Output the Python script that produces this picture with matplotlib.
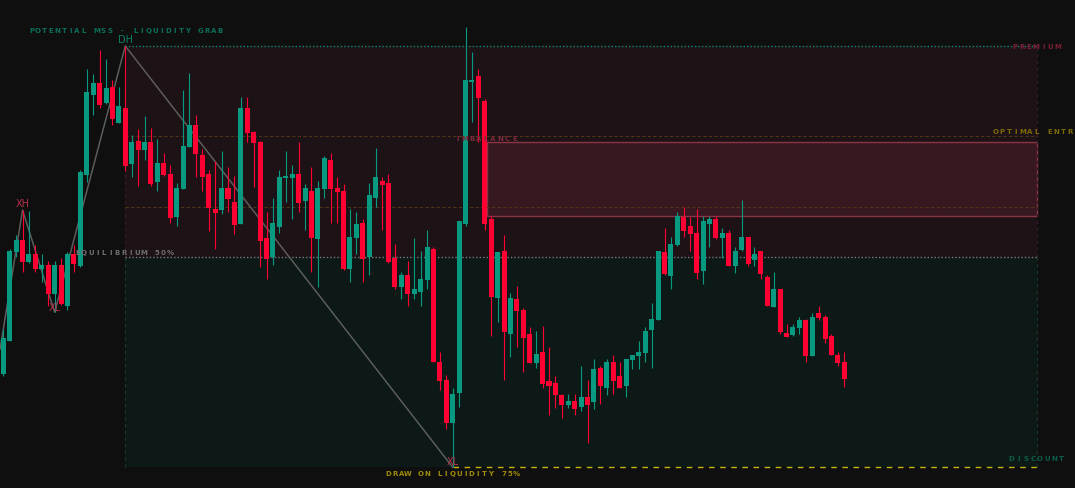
import numpy as np
import matplotlib.pyplot as plt
from matplotlib.patches import Rectangle

W, H = 1075, 489

# candles (price units, one unit ~ one pixel)
opens = [125, 158.3, 247.3, 259, 236.7, 245, 230, 234, 205, 234,
         193.3, 245, 233.3, 324.3, 404.3, 416, 396, 412.3, 376, 391,
         335, 358, 349.3, 356.7, 317.3, 336, 325, 282.3, 310, 352.3,
         374, 344, 325, 290, 289, 310.7, 296.7, 275, 391, 366.7,
         356.7, 260.7, 242.3, 272.3, 321, 321, 325, 298.3, 307.7, 260,
         310, 339, 311, 308, 230, 261, 276, 242.3, 301, 318,
         316, 241, 212, 224, 205, 207, 219, 250, 137.3, 119,
         76, 106, 275, 417.3, 423, 398, 280, 200.7, 248, 165.3,
         200, 189, 165, 136.3, 147, 118, 116, 104, 94.3, 98,
         92.3, 102, 97.3, 131, 111.3, 137, 123, 113.3, 139.3, 143.3,
         146.3, 169.3, 179.3, 247, 223, 254, 282, 273, 266, 228,
         275, 280, 261, 266, 233, 249, 262, 239, 248, 222,
         192, 210, 166, 164, 171, 179, 143, 186, 182, 163,
         144, 137]
closes = [160.7, 248.3, 259, 237.3, 245, 230, 234, 205, 234, 195,
          245, 235, 326.7, 407.3, 416, 394.3, 411, 380, 393, 333.3,
          356.7, 349, 356.7, 315, 336, 324.3, 281, 310.7, 353, 374,
          345, 322.3, 291, 286.3, 310.7, 300, 274.3, 391, 366, 356,
          258.3, 240, 276, 322, 323, 325, 296, 311, 261, 311,
          341, 310, 307, 230, 262, 275, 240, 304, 322, 314,
          236.7, 212, 224, 205, 210, 220, 252, 136.7, 118.3, 76,
          105, 278, 419, 419, 401, 275, 202.3, 247, 167.3, 201,
          188.3, 160.7, 136.3, 145, 115.3, 113.3, 104.3, 94.3, 98, 90.3,
          102, 94.3, 130, 113.3, 137, 118.3, 111.3, 140, 144, 147,
          168, 180, 248, 225.3, 255, 283, 268, 265, 226, 278,
          280, 261, 266, 233, 248, 262, 235, 245, 225, 193,
          210, 167, 162, 172, 179, 143, 182, 181, 160, 144,
          136, 120]
highs = [170, 250, 264, 289, 287.7, 254, 245, 238, 238, 240.7,
         247.3, 254, 329, 430, 425, 449, 440, 419, 412.3, 453,
         364, 370, 382.7, 370.7, 360, 346, 334, 316, 409.3, 426,
         384, 350, 329.3, 338.3, 347.7, 331.7, 322.7, 401.7, 401.7, 368.3,
         358.3, 286.7, 300.7, 329, 348, 334, 356.7, 314.7, 331.7, 318,
         343, 346, 322, 315, 290, 287, 280, 316, 351, 322,
         325, 255, 227, 238, 261, 248, 269, 251.7, 147.3, 124,
         111, 278, 471.7, 446.7, 430, 400, 282.7, 247, 264, 206,
         213.3, 191.3, 172, 168, 173.3, 152, 123, 105, 105, 105,
         133, 119, 140, 133, 140, 144, 137, 140, 144, 158,
         172, 196, 248, 271, 262, 287, 292, 282, 290, 283,
         283, 283, 271, 269, 252, 299, 262, 252, 248, 224,
         227, 210, 175, 175, 182, 180, 186, 193, 184, 165,
         147, 147]
lows = [123.3, 158.3, 242, 227.3, 236, 227.3, 217.3, 193.3, 186.7, 194,
        189.3, 227.3, 231.7, 316.7, 384.3, 391, 395, 374.3, 376, 328.3,
        322.3, 313.3, 339, 313.3, 308.3, 323.3, 276, 273.3, 310, 352.3,
        322.3, 308.3, 268.3, 250, 285, 286.7, 265, 275, 356.7, 311.7,
        231.7, 220, 234, 266, 296.7, 280, 287.3, 269, 227.3, 212.3,
        301, 276, 276, 229, 217.3, 245, 217.3, 224.3, 292, 269,
        235.7, 210, 200, 193, 200, 193, 210, 136.7, 109.3, 70,
        31.7, 91.7, 273.3, 377.3, 357.3, 269.3, 163.3, 177.3, 119.3, 142.3,
        151.7, 126.7, 136.3, 131.3, 111.3, 84.3, 91.3, 81.3, 91.3, 84.3,
        88.3, 56.3, 90.3, 95.3, 104.3, 105.3, 111.3, 102.3, 130.3, 130.3,
        137.3, 131.3, 179.3, 224.3, 210, 252.7, 262, 248, 220, 215,
        252, 260, 241, 233, 226, 248, 233, 233, 220, 193,
        192, 165, 162, 163, 165, 137, 143, 179, 156, 144,
        133, 112]

# swing points (candle index) and the off-screen start of the zigzag
xh_i, xl_i, dh_i, xl2_i = 3, 8, 19, 70
zig_start = 150
zone_end = 161

o = np.array(opens); c = np.array(closes)
hi = np.array(highs); lo = np.array(lows)
x = np.arange(len(o))

dh = hi[dh_i]
xl = lo[xl2_i]
eq = (dh + xl) / 2
fib618 = xl + 0.618 * (dh - xl)
fib786 = xl + 0.786 * (dh - xl)
imb_top = lo[74]
imb_bot = hi[76]

BG = '#0f0f0f'
UP = '#089981'
DOWN = '#ff0033'

fig = plt.figure(figsize=(W / 100, H / 100), dpi=100, facecolor=BG)
ax = fig.add_axes([0, 0, 1, 1], facecolor=BG)
dx = 6.42
ax.set_xlim(-3.3 / dx, (W - 3.3) / dx)
ax.set_ylim(500 - H, 500)
ax.axis('off')

# premium / discount zones
ax.add_patch(Rectangle((dh_i, eq), zone_end - dh_i, dh - eq, fc='#1d1216', ec='none', zorder=0))
ax.add_patch(Rectangle((dh_i, xl), zone_end - dh_i, eq - xl, fc='#0d1917', ec='none', zorder=0))
ax.add_patch(Rectangle((75.4, imb_bot), zone_end - 75.4, imb_top - imb_bot,
                       fc='#381820', ec='#8a3446', lw=1, zorder=1))

for xv in (dh_i, zone_end):
    ax.plot([xv, xv], [eq, dh], color='#3a1c24', lw=0.8, ls=(0, (3, 3)), zorder=1)
    ax.plot([xv, xv], [xl, eq], color='#163a30', lw=0.8, ls=(0, (3, 3)), zorder=1)

ax.plot([dh_i, zone_end], [dh, dh], color='#0e8c72', lw=1, ls=(0, (1, 1.5)), zorder=2)
ax.plot([dh_i, zone_end], [eq, eq], color='#7a7a7a', lw=1, ls=(0, (1, 1.5)), zorder=2)
for lvl in (fib618, fib786):
    ax.plot([dh_i, zone_end], [lvl, lvl], color='#4e3518', lw=0.8, ls=(0, (3, 2)), zorder=2)
ax.plot([xl2_i, zone_end], [xl, xl], color='#c8b20a', lw=1, ls=(0, (4, 4)), zorder=2)

# zigzag
zx = [-0.5, xh_i, xl_i, dh_i, xl2_i]
zy = [zig_start, hi[xh_i], lo[xl_i], hi[dh_i], lo[xl2_i]]
ax.plot(zx, zy, color='#5c5c5c', lw=1.1, zorder=3)

# candles
cols = np.where(c >= o, UP, DOWN)
ax.vlines(x, lo, hi, colors=cols, lw=0.8, zorder=4)
body = np.maximum(np.abs(c - o), 1.5)
ax.bar(x, body, bottom=np.minimum(o, c), width=0.78, color=cols, lw=0, zorder=5)

# swing labels
ax.text(xh_i, hi[xh_i] + 2, 'XH', color='#b8304a', fontsize=7, ha='center', va='bottom', zorder=6)
ax.text(xl_i, lo[xl_i], 'XL', color='#b8304a', fontsize=7, ha='center', va='bottom', zorder=6)
ax.text(dh_i, dh + 2, 'DH', color='#0c8268', fontsize=7, ha='center', va='bottom', zorder=6)
ax.text(xl2_i, xl + 1, 'XL', color='#b8304a', fontsize=7, ha='center', va='bottom', zorder=6)


def spaced(x_px, y_px, s, step, color):
    # fixed-pitch letter spacing, each glyph centred in its cell
    for k, ch in enumerate(s):
        if ch == ' ':
            continue
        fig.text((x_px + 2.5 + k * step) / W, 1 - y_px / H, ch, color=color,
                 fontsize=5, fontweight='bold', ha='center', va='center')


spaced(29, 31, 'POTENTIAL MSS - LIQUIDITY GRAB', 6.5, '#0b6e5a')
spaced(75, 253, 'EQUILIBRIUM 50%', 6.6, '#6e6e6e')
spaced(455, 139, 'IMBALANCE', 7.1, '#7c2a3a')
spaced(993, 132, 'OPTIMAL ENTR', 6.8, '#7d6b05')
spaced(1012, 47, 'PREMIUM', 7.2, '#7a1f35')
spaced(1009, 459, 'DISCOUNT', 7.1, '#0b5e4a')
spaced(386, 474, 'DRAW ON LIQUIDITY 75%', 6.4, '#a08c0a')

fig.savefig('out.png', dpi=100, facecolor=BG)
